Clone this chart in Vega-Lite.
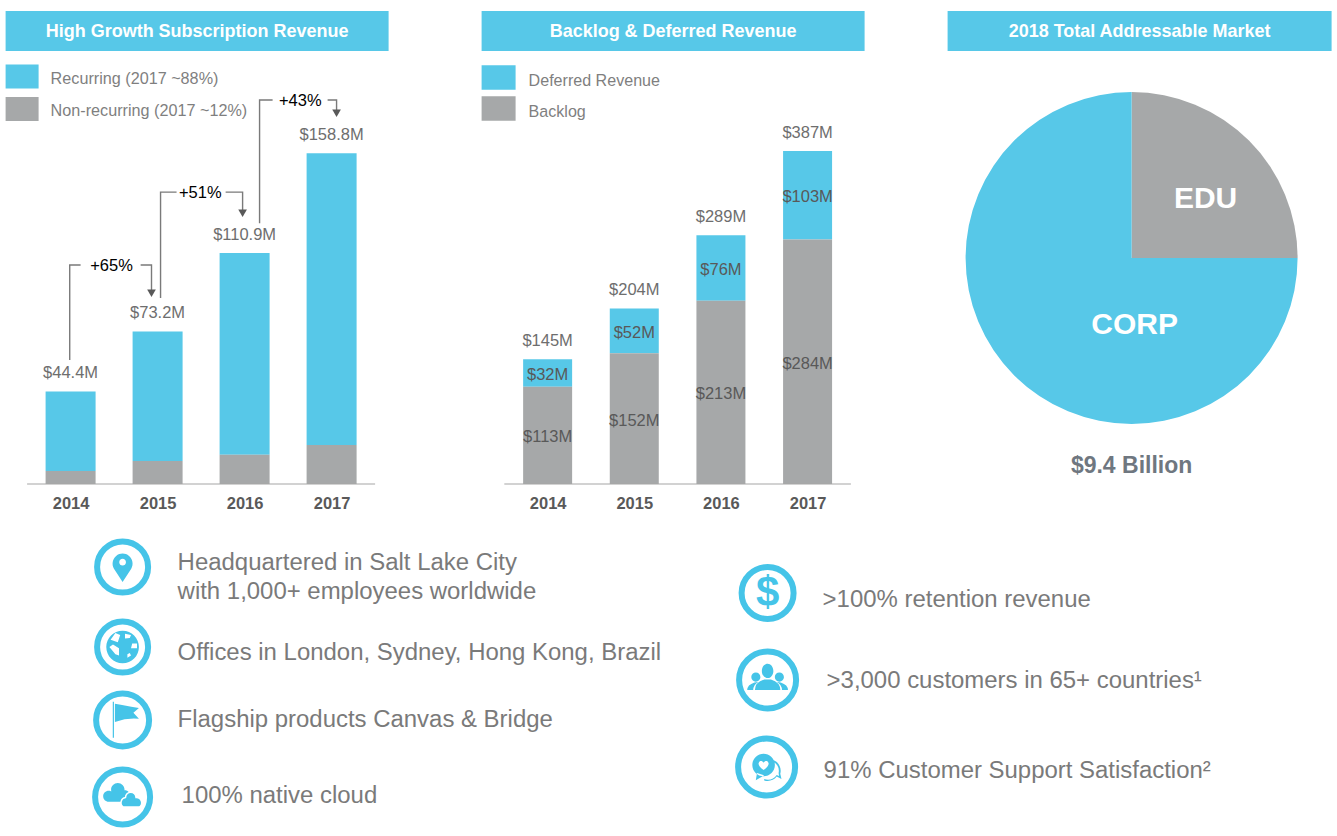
{
"$schema":"https://vega.github.io/schema/vega-lite/v6.json",
"padding":{"left":5.6,"top":11,"right":0,"bottom":0},
"background":"white",
"config":{"view":{"stroke":null},"font":"Liberation Sans","axis":{"grid":false},"text":{"font":"Liberation Sans"}},
"resolve":{"scale":{"color":"independent"},"legend":{"color":"independent"}},
"datasets":{
"rev":[
{"year":2014,"series":"Recurring (2017 ~88%)","amount":38.2},{"year":2014,"series":"Non-recurring (2017 ~12%)","amount":6.2},
{"year":2015,"series":"Recurring (2017 ~88%)","amount":62.2},{"year":2015,"series":"Non-recurring (2017 ~12%)","amount":11},
{"year":2016,"series":"Recurring (2017 ~88%)","amount":96.9},{"year":2016,"series":"Non-recurring (2017 ~12%)","amount":14},
{"year":2017,"series":"Recurring (2017 ~88%)","amount":140.1},{"year":2017,"series":"Non-recurring (2017 ~12%)","amount":18.7}],
"revTotals":[{"year":2014,"value":44.4,"label":"$44.4M"},{"year":2015,"value":73.2,"label":"$73.2M"},{"year":2016,"value":110.9,"label":"$110.9M"},{"year":2017,"value":158.8,"label":"$158.8M"}],
"connectors":[
{"seg":"a1","ord":1,"year":2013.99,"value":59.5},{"seg":"a1","ord":2,"year":2013.99,"value":105.1},{"seg":"a1","ord":3,"year":2014.115,"value":105.1},
{"seg":"a2","ord":1,"year":2014.805,"value":105.1},{"seg":"a2","ord":2,"year":2014.93,"value":105.1},{"seg":"a2","ord":3,"year":2014.93,"value":92},
{"seg":"b1","ord":1,"year":2015.034,"value":89.3},{"seg":"b1","ord":2,"year":2015.034,"value":140.1},{"seg":"b1","ord":3,"year":2015.218,"value":140.1},
{"seg":"b2","ord":1,"year":2015.782,"value":140.1},{"seg":"b2","ord":2,"year":2015.977,"value":140.1},{"seg":"b2","ord":3,"year":2015.977,"value":130},
{"seg":"c1","ord":1,"year":2016.172,"value":125.2},{"seg":"c1","ord":2,"year":2016.172,"value":184.3},{"seg":"c1","ord":3,"year":2016.322,"value":184.3},
{"seg":"c2","ord":1,"year":2016.954,"value":184.3},{"seg":"c2","ord":2,"year":2017.057,"value":184.3},{"seg":"c2","ord":3,"year":2017.057,"value":178}],
"arrows":[{"year":2014.93,"value":91.5},{"year":2015.977,"value":130},{"year":2017.057,"value":178}],
"growth":[{"year":2014.47,"value":105.1,"label":"+65%"},{"year":2015.49,"value":140.1,"label":"+51%"},{"year":2016.64,"value":184.3,"label":"+43%"}],
"baseline":[{"year":2013.5,"year2":2017.5,"value":0}],
"backlog":[
{"year":2014,"series":"Deferred Revenue","amount":32,"label":"$32M"},{"year":2014,"series":"Backlog","amount":113,"label":"$113M"},
{"year":2015,"series":"Deferred Revenue","amount":52,"label":"$52M"},{"year":2015,"series":"Backlog","amount":152,"label":"$152M"},
{"year":2016,"series":"Deferred Revenue","amount":76,"label":"$76M"},{"year":2016,"series":"Backlog","amount":213,"label":"$213M"},
{"year":2017,"series":"Deferred Revenue","amount":103,"label":"$103M"},{"year":2017,"series":"Backlog","amount":284,"label":"$284M"}],
"backlogTotals":[{"year":2014,"value":145,"label":"$145M"},{"year":2015,"value":204,"label":"$204M"},{"year":2016,"value":289,"label":"$289M"},{"year":2017,"value":387,"label":"$387M"}],
"tam":[{"segment":"EDU","share":25,"ord":1},{"segment":"CORP","share":75,"ord":2}],
"lines":[
{"slot":1,"label":"Headquartered in Salt Lake City"},
{"slot":2,"label":"with 1,000+ employees worldwide"},
{"slot":3,"label":"Offices in London, Sydney, Hong Kong, Brazil"},
{"slot":4,"label":"Flagship products Canvas & Bridge"},
{"slot":5,"label":"100% native cloud"},
{"slot":6,"label":">100% retention revenue"},
{"slot":7,"label":">3,000 customers in 65+ countries¹"},
{"slot":8,"label":"91% Customer Support Satisfaction²"}],
"rings":[{"slot":11},{"slot":12},{"slot":13},{"slot":14},{"slot":15},{"slot":16},{"slot":17}],
"glyphs":[
{"slot":11,"icon":"pin"},{"slot":12,"icon":"globe"},{"slot":13,"icon":"flag"},{"slot":14,"icon":"cloud1"},{"slot":14,"icon":"cloud2"},{"slot":16,"icon":"people"},{"slot":17,"icon":"chat"}]
},
"vconcat":[
{"resolve":{"scale":{"color":"independent"},"legend":{"color":"independent"}},"hconcat":[
 {"spacing":9,"resolve":{"scale":{"color":"independent"},"legend":{"color":"independent"}},"vconcat":[
  {"width":383,"height":40,"view":{"fill":"#57c8e8","stroke":null},"data":{"values":[{"t":"High Growth Subscription Revenue"}]},
   "mark":{"type":"text","color":"white","fontWeight":"bold","fontSize":18,"dy":1},"encoding":{"text":{"field":"t"}}},
  {"width":393,"height":424,
   "encoding":{"x":{"field":"year","type":"quantitative","scale":{"domain":[2013.253,2017.77],"nice":false,"zero":false,"padding":0},
     "axis":{"title":null,"values":[2014,2015,2016,2017],"format":"d","domain":false,"ticks":false,"labelPadding":12,"labelFontSize":16.5,"labelFontWeight":"bold","labelColor":"#595959","labelFont":"Liberation Sans"}}},
   "layer":[
    {"data":{"name":"rev"},"transform":[{"stack":"amount","groupby":["year"],"sort":[{"field":"series","order":"ascending"}],"as":["y0","y1"]}],
     "mark":{"type":"bar","size":50,"orient":"vertical"},
     "encoding":{"y":{"field":"y1","type":"quantitative","scale":{"domain":[0,203.5],"nice":false},"axis":null},"y2":{"field":"y0"},
      "color":{"field":"series","type":"nominal","scale":{"domain":["Recurring (2017 ~88%)","Non-recurring (2017 ~12%)"],"range":["#57c8e8","#a6a8a9"]},
       "legend":{"title":null,"orient":"none","legendX":0,"legendY":0,"padding":0,"rowPadding":3.5,"symbolType":"M-1,-0.72H1V0.72H-1Z","symbolSize":1089,"symbolStrokeWidth":0,"labelOffset":12,"labelFontSize":16.2,"labelLimit":400,"labelColor":"#7f7f7f","labelFont":"Liberation Sans","encode":{"labels":{"update":{"dy":{"value":2}}}}}}}},
    {"data":{"name":"baseline"},"mark":{"type":"rule","color":"#a6a6a6","strokeWidth":1.2},"encoding":{"x2":{"field":"year2"},"y":{"field":"value","type":"quantitative","axis":null}}},
    {"data":{"name":"revTotals"},"mark":{"type":"text","fontSize":16.5,"color":"#6e6e6e","dy":-10,"baseline":"bottom"},"encoding":{"y":{"field":"value","type":"quantitative","axis":null},"text":{"field":"label"}}},
    {"data":{"name":"connectors"},"mark":{"type":"line","color":"#7a7a7a","strokeWidth":1.4,"interpolate":"linear"},"encoding":{"y":{"field":"value","type":"quantitative","axis":null},"detail":{"field":"seg"},"order":{"field":"ord"}}},
    {"data":{"name":"arrows"},"mark":{"type":"point","shape":"triangle-down","filled":true,"color":"#595959","size":75,"opacity":1},"encoding":{"y":{"field":"value","type":"quantitative","axis":null}}},
    {"data":{"name":"growth"},"mark":{"type":"text","fontSize":16.5,"color":"black","dy":1},"encoding":{"y":{"field":"value","type":"quantitative","axis":null},"text":{"field":"label"}}}
   ]}
 ]},
 {"spacing":9,"resolve":{"scale":{"color":"independent"},"legend":{"color":"independent"}},"vconcat":[
  {"width":383,"height":40,"view":{"fill":"#57c8e8","stroke":null},"data":{"values":[{"t":"Backlog & Deferred Revenue"}]},
   "mark":{"type":"text","color":"white","fontWeight":"bold","fontSize":18,"dy":1},"encoding":{"text":{"field":"t"}}},
  {"width":383,"height":424,
   "encoding":{"x":{"field":"year","type":"quantitative","scale":{"domain":[2013.238,2017.658],"nice":false,"zero":false,"padding":0},
     "axis":{"title":null,"values":[2014,2015,2016,2017],"format":"d","domain":false,"ticks":false,"labelPadding":12,"labelFontSize":16.5,"labelFontWeight":"bold","labelColor":"#595959","labelFont":"Liberation Sans"}}},
   "layer":[
    {"data":{"name":"backlog"},"transform":[{"stack":"amount","groupby":["year"],"sort":[{"field":"series","order":"ascending"}],"as":["y0","y1"]},{"calculate":"(datum.y0+datum.y1)/2","as":"mid"}],
     "layer":[
      {"mark":{"type":"bar","size":49,"orient":"vertical"},
       "encoding":{"y":{"field":"y1","type":"quantitative","scale":{"domain":[0,492.7],"nice":false},"axis":null},"y2":{"field":"y0"},
        "color":{"field":"series","type":"nominal","scale":{"domain":["Deferred Revenue","Backlog"],"range":["#57c8e8","#a6a8a9"]},
         "legend":{"title":null,"orient":"none","legendX":0,"legendY":0.5,"padding":0,"rowPadding":1,"symbolType":"M-1,-0.72H1V0.72H-1Z","symbolSize":1156,"symbolStrokeWidth":0,"labelOffset":13,"labelFontSize":16.1,"labelLimit":400,"labelColor":"#7f7f7f","labelFont":"Liberation Sans","encode":{"labels":{"update":{"dy":{"value":3}}}}}}}},
      {"mark":{"type":"text","fontSize":16.5,"color":"#595959","dy":2},"encoding":{"y":{"field":"mid","type":"quantitative","axis":null},"text":{"field":"label"}}}
     ]},
    {"data":{"name":"baseline"},"mark":{"type":"rule","color":"#a6a6a6","strokeWidth":1.2},"encoding":{"x2":{"field":"year2"},"y":{"field":"value","type":"quantitative","axis":null}}},
    {"data":{"name":"backlogTotals"},"mark":{"type":"text","fontSize":16.5,"color":"#6e6e6e","dy":-10,"baseline":"bottom"},"encoding":{"y":{"field":"value","type":"quantitative","axis":null},"text":{"field":"label"}}}
   ]}
 ]},
 {"spacing":9,"resolve":{"scale":{"color":"independent"},"legend":{"color":"independent"}},"vconcat":[
  {"width":384,"height":40,"view":{"fill":"#57c8e8","stroke":null},"data":{"values":[{"t":"2018 Total Addressable Market"}]},
   "mark":{"type":"text","color":"white","fontWeight":"bold","fontSize":18,"dy":1},"encoding":{"text":{"field":"t"}}},
  {"width":368,"height":396,
   "layer":[
    {"data":{"name":"tam"},"mark":{"type":"arc","radius":166},"encoding":{"theta":{"field":"share","type":"quantitative","stack":true},"order":{"field":"ord"},
      "color":{"field":"segment","type":"nominal","scale":{"domain":["EDU","CORP"],"range":["#a6a8a9","#57c8e8"]},"legend":null}}},
    {"data":{"name":"tam"},"transform":[{"filter":"datum.segment==='EDU'"}],"mark":{"type":"text","fontSize":30,"fontWeight":"bold","color":"white","dx":74,"dy":-59},"encoding":{"text":{"field":"segment"}}},
    {"data":{"name":"tam"},"transform":[{"filter":"datum.segment==='CORP'"}],"mark":{"type":"text","fontSize":30,"fontWeight":"bold","color":"white","dx":3,"dy":67},"encoding":{"text":{"field":"segment"}}},
    {"data":{"values":[{"t":"$9.4 Billion"}]},"mark":{"type":"text","fontSize":23,"fontWeight":"bold","color":"#6f7780","dy":208},"encoding":{"text":{"field":"t"}}}
   ]}
 ]}
],"spacing":83},
{"width":1331,"height":306,
 "encoding":{
  "x":{"field":"slot","type":"quantitative","axis":null,"scale":{"nice":false,"zero":false,
    "domain":[1,2,3,4,5,6,7,8,11,12,13,14,15,16,17],
    "range":[172,172,172,172,176,817,821,818,117,117,117,117,762,762,761]}},
  "y":{"field":"slot","type":"quantitative","axis":null,"scale":{"nice":false,"zero":false,
    "domain":[1,2,3,4,5,6,7,8,11,12,13,14,15,16,17],
    "range":[34,63,124,191,267,71,152,242,38,118,191,268,64,151,238]}}
 },
 "layer":[
  {"data":{"name":"lines"},"mark":{"type":"text","align":"left","fontSize":23.95,"color":"#7a7a7a"},"encoding":{"text":{"field":"label"}}},
  {"data":{"name":"rings"},"mark":{"type":"point","shape":"circle","filled":false,"color":"#45c4e8","strokeWidth":6,"opacity":1},
   "encoding":{"size":{"field":"slot","type":"quantitative","legend":null,"scale":{"zero":false,"nice":false,"domain":[11,12,13,14,15,16,17],"range":[2601,2601,2809,3025,2704,3249,3249]}}}},
  {"data":{"name":"glyphs"},"mark":{"type":"point","filled":true,"size":2304,"opacity":1,"fill":"#45c4e8","stroke":"white"},
   "encoding":{
    "strokeWidth":{"condition":{"test":"datum.icon==='cloud2'","value":1.5},"value":0},
    "shape":{"field":"icon","type":"nominal","legend":null,"scale":{"domain":["pin","globe","flag","cloud1","cloud2","people","chat"],
     "range":[
      "M0,.625L-.36,.07A.417,.417 0 1 1 .36,.07ZM0,-.34A.14,.14 0 1 0 0,-.06A.14,.14 0 1 0 0,-.34Z",
      "M0,-.68A.68,.68 0 1 1 0,.68A.68,.68 0 1 1 0,-.68ZM-.5,-.3L-.2,-.2L-.1,-.5L-.3,-.58ZM-.55,.0L-.3,.3L-.15,.35L-.15,.05L-.4,-.1ZM.1,-.55L.1,-.35L.3,-.38L.35,-.5ZM.4,-.15L.35,.05L.6,.05L.6,-.15ZM.2,.45L.35,.35L.3,.25L.2,.3Z",
      "M-.41,-.76H-.36V.74H-.41ZM-.32,-.68Q0,-.62 .68,-.5L.45,-.3L.68,-.05Q.2,-.1 -.32,.08Z",
      "M-.2,-.58A.28,.28 0 1 1 -.2,-.02A.28,.28 0 1 1 -.2,-.58ZM-.58,-.26A.23,.23 0 1 1 -.58,.2A.23,.23 0 1 1 -.58,-.26ZM.1,-.28A.2,.2 0 1 1 .1,.12A.2,.2 0 1 1 .1,-.28ZM-.58,-.1H.1V.2H-.58Z",
      "M.03,.42A.22,.22 0 0 1 .12,.02A.22,.22 0 0 1 .56,.02A.22,.22 0 0 1 .7,.42Z",
      "M0,-.68A.24,.3 0 1 1 0,-.08A.24,.3 0 1 1 0,-.68ZM-.53,.42Q-.53,.1 -.14,-.02L.14,-.02Q.53,.1 .53,.42ZM-.49,-.31A.19,.19 0 1 1 -.49,.07A.19,.19 0 1 1 -.49,-.31ZM.49,-.31A.19,.19 0 1 1 .49,.07A.19,.19 0 1 1 .49,-.31ZM-.85,.42Q-.85,.2 -.55,.1L-.38,.08Q-.6,.2 -.6,.42ZM.6,.42Q.6,.2 .38,.08L.55,.1Q.85,.2 .85,.42Z",
      "M-.125,-.55A.47,.47 0 1 1 -.125,.39A.47,.47 0 1 1 -.125,-.55ZM-.4,.25L-.45,.55L-.1,.35ZM-.125,.12C.05,0 .1,-.1 .08,-.17C.05,-.28 -.07,-.28 -.125,-.18C-.18,-.28 -.3,-.28 -.33,-.17C-.35,-.1 -.3,0 -.125,.12ZM.3,-.28A.47,.47 0 0 1 .57,.28L.62,.5L.42,.4A.47,.47 0 0 1 -.1,.56L-.1,.5A.42,.42 0 0 0 .42,.33L.52,.38L.5,.25A.42,.42 0 0 0 .28,-.22Z"
     ]}}}},
  {"data":{"values":[{"slot":15,"t":"$"}]},"mark":{"type":"text","fontSize":42,"fontWeight":"bold","color":"#45c4e8"},"encoding":{"text":{"field":"t"}}}
 ]}
],
"spacing":16
}
